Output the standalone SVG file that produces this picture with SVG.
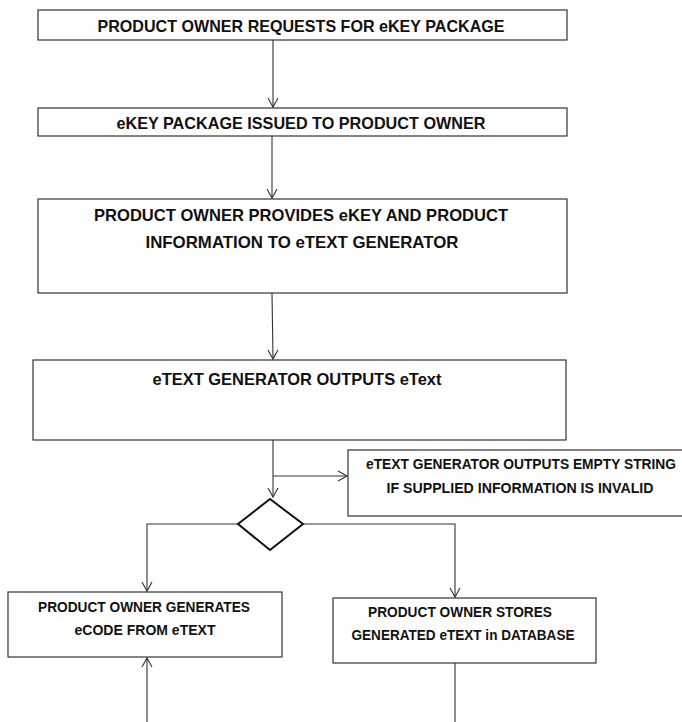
<svg xmlns="http://www.w3.org/2000/svg" width="682" height="722" viewBox="0 0 682 722">
<style>
.box{fill:#fff;stroke:#333;stroke-width:1.2}
.dia{fill:#fff;stroke:#111;stroke-width:2}
.t{font-family:"Liberation Sans",Arial,sans-serif;font-weight:bold;fill:#111;text-anchor:middle}
.l{font-size:16.5px}
.s{font-size:14px}
.c{fill:none;stroke:#333;stroke-width:1.1}
</style>
<defs>
<marker id="arr" markerWidth="12" markerHeight="12" refX="10" refY="6" orient="auto" markerUnits="userSpaceOnUse">
<path d="M1,1 L10,6 L1,11" fill="none" stroke="#333" stroke-width="1.1"/>
</marker>
</defs>
<rect width="682" height="722" fill="#fff"/>
<g id="connectors">
<line class="c" x1="273" y1="40" x2="273" y2="107" marker-end="url(#arr)"/>
<line class="c" x1="272" y1="136" x2="272" y2="198" marker-end="url(#arr)"/>
<line class="c" x1="272" y1="293" x2="273" y2="359" marker-end="url(#arr)"/>
<line class="c" x1="273" y1="440" x2="273" y2="497" marker-end="url(#arr)"/>
<line class="c" x1="273" y1="476" x2="347" y2="476" marker-end="url(#arr)"/>
<polyline class="c" points="238,524 147,524 147,591" marker-end="url(#arr)"/>
<polyline class="c" points="303,524 455,524 455,597" marker-end="url(#arr)"/>
<line class="c" x1="455" y1="663" x2="455" y2="722"/>
<line class="c" x1="147" y1="722" x2="147" y2="658" marker-end="url(#arr)"/>
</g>
<g id="n1">
<rect class="box" x="38" y="10" width="529" height="30"/>
<text class="t l" x="301" y="32" textLength="407" lengthAdjust="spacingAndGlyphs">PRODUCT OWNER REQUESTS FOR eKEY PACKAGE</text>
</g>
<g id="n2">
<rect class="box" x="38" y="108" width="529" height="28"/>
<text class="t l" x="301" y="129" textLength="369" lengthAdjust="spacingAndGlyphs">eKEY PACKAGE ISSUED TO PRODUCT OWNER</text>
</g>
<g id="n3">
<rect class="box" x="38" y="199" width="529" height="94"/>
<text class="t l" x="301" y="221" textLength="414" lengthAdjust="spacingAndGlyphs">PRODUCT OWNER PROVIDES eKEY AND PRODUCT</text>
<text class="t l" x="302" y="248" textLength="313" lengthAdjust="spacingAndGlyphs">INFORMATION TO eTEXT GENERATOR</text>
</g>
<g id="n4">
<rect class="box" x="33" y="360" width="533" height="80"/>
<text class="t l" x="297" y="385" textLength="289" lengthAdjust="spacingAndGlyphs">eTEXT GENERATOR OUTPUTS eText</text>
</g>
<g id="n5">
<rect class="box" x="348" y="450" width="340" height="66"/>
<text class="t s" x="521" y="469" textLength="310" lengthAdjust="spacingAndGlyphs">eTEXT GENERATOR OUTPUTS EMPTY STRING</text>
<text class="t s" x="520" y="493" textLength="267" lengthAdjust="spacingAndGlyphs">IF SUPPLIED INFORMATION IS INVALID</text>
</g>
<g id="decision">
<polygon class="dia" points="270,499 303,524 270,550 238,524"/>
</g>
<g id="n6">
<rect class="box" x="8" y="592" width="274" height="65"/>
<text class="t s" x="144" y="612" textLength="212" lengthAdjust="spacingAndGlyphs">PRODUCT OWNER GENERATES</text>
<text class="t s" x="145" y="635" textLength="141" lengthAdjust="spacingAndGlyphs">eCODE FROM eTEXT</text>
</g>
<g id="n7">
<rect class="box" x="333" y="598" width="263" height="65"/>
<text class="t s" x="460" y="617" textLength="184" lengthAdjust="spacingAndGlyphs">PRODUCT OWNER STORES</text>
<text class="t s" x="463" y="640" textLength="223" lengthAdjust="spacingAndGlyphs">GENERATED eTEXT in DATABASE</text>
</g>
</svg>
